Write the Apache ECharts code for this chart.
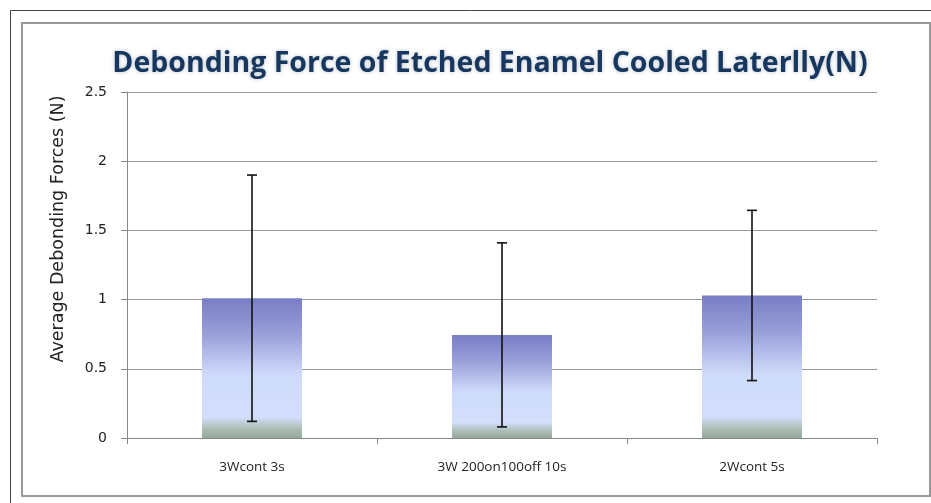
<!DOCTYPE html>
<html>
<head>
<meta charset="utf-8">
<script src="https://cdn.jsdelivr.net/npm/echarts@6/dist/echarts.min.js"></script>
<style>
html,body{margin:0;padding:0;background:#fff;}
#c{width:931px;height:503px;}
</style>
</head>
<body>
<div id="c"></div>
<script>
const categories = ['3Wcont 3s', '3W 200on100off 10s', '2Wcont 5s'];
const means = [1.01, 0.745, 1.03];
const errors = [0.89, 0.665, 0.615];
const yTicks = [0, 0.5, 1, 1.5, 2, 2.5];

const chart = echarts.init(document.getElementById('c'));
const barGrad = new echarts.graphic.LinearGradient(0, 0, 0, 1, [
  {offset: 0, color: '#787ec4'},
  {offset: 0.25, color: '#979ed8'},
  {offset: 0.55, color: '#cfdbfb'},
  {offset: 0.85, color: '#d2defc'},
  {offset: 0.93, color: '#aebfb8'},
  {offset: 1, color: '#93a89a'}
]);

chart.setOption({
  animation: false,
  backgroundColor: '#fff',
  title: {
    text: 'Debonding Force of Etched Enamel Cooled Laterlly(N)',
    left: 485, top: 44, textAlign: 'center',
    textStyle: {
      fontFamily: 'Open Sans', fontWeight: 'bold', fontSize: 28.5,
      color: '#17375e', textShadowColor: 'rgba(23,55,94,0.3)', textShadowBlur: 4
    }
  },
  graphic: [
    {type: 'rect', shape: {x: 10.5, y: 10.5, width: 940, height: 520}, style: {fill: 'none', stroke: '#444', lineWidth: 1}, z: 0},
    {type: 'rect', shape: {x: 22, y: 23, width: 908, height: 473}, style: {fill: 'none', stroke: '#999', lineWidth: 2}, z: 0},
    {type: 'text', x: 58, y: 229, rotation: Math.PI / 2, style: {
      text: 'Average Debonding Forces (N)', fontFamily: 'DejaVu Sans', fontSize: 17.5, fill: '#222',
      align: 'center', verticalAlign: 'middle'}}
  ],
  grid: {left: 127, right: 54, top: 92, bottom: 65},
  xAxis: {
    type: 'category', data: categories,
    axisLine: {lineStyle: {color: '#888', width: 1}},
    axisTick: {show: true, length: 6, lineStyle: {color: '#888'}},
    axisLabel: {color: '#222', fontFamily: 'Open Sans', fontSize: 13.5, margin: 22}
  },
  yAxis: {
    type: 'value', min: 0, max: 2.5, interval: 0.5,
    axisLine: {show: true, lineStyle: {color: '#888'}},
    axisTick: {show: true, inside: false, length: 6, lineStyle: {color: '#888'}},
    splitLine: {lineStyle: {color: '#999', width: 1}},
    axisLabel: {color: '#222', fontFamily: 'DejaVu Sans', fontSize: 14, margin: 20,
      formatter: v => String(v)}
  },
  series: [
    {
      type: 'bar', data: means, barWidth: '40%',
      itemStyle: {color: barGrad}, z: 2
    },
    {
      type: 'custom', z: 5,
      data: means.map((m, i) => [i, m - errors[i], m + errors[i]]),
      renderItem: function (params, api) {
        const x = api.coord([api.value(0), 0])[0];
        const lo = api.coord([api.value(0), api.value(1)])[1];
        const hi = api.coord([api.value(0), api.value(2)])[1];
        const cap = 5;
        const st = {stroke: '#111', lineWidth: 1.6};
        return {type: 'group', children: [
          {type: 'line', shape: {x1: x, y1: lo, x2: x, y2: hi}, style: st},
          {type: 'line', shape: {x1: x - cap, y1: lo, x2: x + cap, y2: lo}, style: st},
          {type: 'line', shape: {x1: x - cap, y1: hi, x2: x + cap, y2: hi}, style: st}
        ]};
      }
    }
  ]
});
</script>
</body>
</html>
